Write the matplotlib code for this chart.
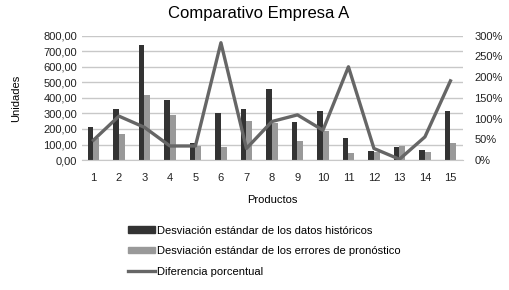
import matplotlib.pyplot as plt
from matplotlib.lines import Line2D
from matplotlib.patches import Patch
from matplotlib.ticker import FuncFormatter, PercentFormatter
import numpy as np

plt.rcParams["font.family"] = ["Liberation Sans", "DejaVu Sans"]

productos = list(range(1, 16))
desv_historicos = [214, 326, 738, 386, 109, 305, 328, 457, 242, 313, 142, 60, 86, 67, 313]
desv_errores = [140, 165, 420, 290, 88, 84, 253, 236, 120, 187, 47, 51, 90, 49, 112]
diferencia = [48, 106, 79, 34, 34, 283, 28, 93, 109, 72, 225, 28, 2, 56, 191]

dark = "#333333"
light = "#999999"
line_c = "#666666"

fig = plt.figure(figsize=(5.09, 2.90), dpi=100)
ax = fig.add_axes([0.161, 0.448, 0.749, 0.429])
x = np.array(productos)
w = 0.23
ax.bar(x - w / 2, desv_historicos, width=w, color=dark, zorder=2)
ax.bar(x + w / 2, desv_errores, width=w, color=light, zorder=2)
ax.set_ylim(0, 800)
ax.set_yticks(range(0, 801, 100))
ax.yaxis.set_major_formatter(FuncFormatter(lambda v, p: f"{v:.2f}".replace(".", ",")))
ax.set_xlim(0.55, 15.5)
ax.set_xticks(x)
ax.grid(axis="y", color="#c8c8c8", linewidth=1, zorder=0)
for s in ["top", "left", "right"]:
    ax.spines[s].set_visible(False)
ax.spines["bottom"].set_color("#c8c8c8")
ax.tick_params(length=0, labelsize=8, colors="#222222")
ax.tick_params(axis="x", pad=9)
ax.set_xlabel("Productos", fontsize=8, labelpad=9)
ax.set_ylabel("Unidades", fontsize=8, labelpad=16)
fig.text(0.509, 0.955, "Comparativo Empresa A", fontsize=12, ha="center", va="center")

ax2 = ax.twinx()
ax2.plot(x, np.array(diferencia) / 100, color=line_c, linewidth=2.4, zorder=3)
ax2.set_ylim(0, 3)
ax2.set_yticks(np.arange(0, 3.01, 0.5))
ax2.yaxis.set_major_formatter(PercentFormatter(1.0, decimals=0))
for s in ax2.spines.values():
    s.set_visible(False)
ax2.tick_params(length=0, labelsize=8, colors="#222222", pad=8)

handles = [
    Patch(color=dark),
    Patch(color=light),
    Line2D([0], [0], color=line_c, linewidth=2.4),
]
labels = [
    "Desviación estándar de los datos históricos",
    "Desviación estándar de los errores de pronóstico",
    "Diferencia porcentual",
]
fig.legend(handles, labels, loc="center left", bbox_to_anchor=(0.232, 0.134),
           frameon=False, fontsize=8, handlelength=2.4, handleheight=0.5,
           handletextpad=0.2, labelspacing=0.95)

fig.savefig("out.png", dpi=100)
